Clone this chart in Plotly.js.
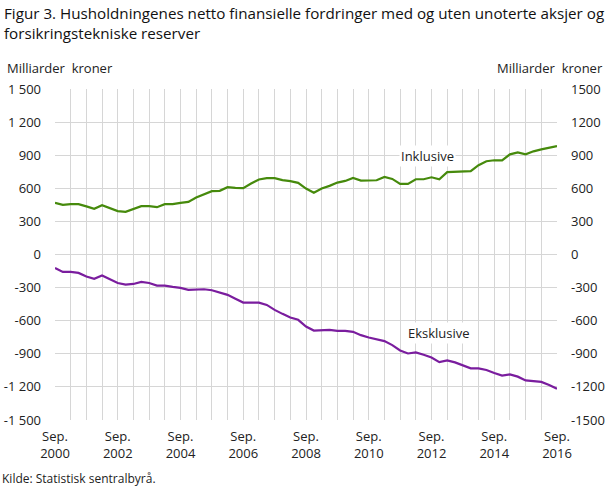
<!DOCTYPE html>
<html>
<head>
<meta charset="utf-8">
<script src="https://cdn.plot.ly/plotly-3.0.1.min.js"></script>
<style>html,body{margin:0;padding:0;background:#fff;}#chart{width:609px;height:488px;}</style>
</head>
<body>
<div id="chart"></div>
<script>
var periods = [
"2000K3","2000K4",
"2001K1","2001K2","2001K3","2001K4",
"2002K1","2002K2","2002K3","2002K4",
"2003K1","2003K2","2003K3","2003K4",
"2004K1","2004K2","2004K3","2004K4",
"2005K1","2005K2","2005K3","2005K4",
"2006K1","2006K2","2006K3","2006K4",
"2007K1","2007K2","2007K3","2007K4",
"2008K1","2008K2","2008K3","2008K4",
"2009K1","2009K2","2009K3","2009K4",
"2010K1","2010K2","2010K3","2010K4",
"2011K1","2011K2","2011K3","2011K4",
"2012K1","2012K2","2012K3","2012K4",
"2013K1","2013K2","2013K3","2013K4",
"2014K1","2014K2","2014K3","2014K4",
"2015K1","2015K2","2015K3","2015K4",
"2016K1","2016K2","2016K3"
];

var inklusive = [
468,450,456,456,436,414,447,420,393,387,
411,438,438,429,456,456,468,477,517,547,
574,577,610,604,601,643,680,692,692,674,
665,649,598,559,598,622,652,667,694,670,
673,673,703,685,640,640,682,682,700,682,
746,748,755,755,809,845,854,854,908,926,
908,935,953,971,983
];

var eksklusive = [
-122,-158,-158,-167,-200,-221,-191,-221,-258,-273,
-267,-249,-258,-282,-282,-294,-303,-321,-315,-315,
-324,-348,-366,-402,-436,-436,-436,-457,-502,-538,
-571,-592,-653,-689,-689,-683,-692,-692,-701,-731,
-752,-770,-785,-821,-870,-897,-888,-909,-933,-975,
-960,-978,-1005,-1032,-1032,-1047,-1074,-1098,-1087,-1107,
-1141,-1146,-1155,-1182,-1216
];

var seriesNames = ["Inklusive", "Eksklusive"];

var yTickVals = [-1500,-1200,-900,-600,-300,0,300,600,900,1200,1500];
var yTickTextLeft = ["-1 500","-1 200","-900","-600","-300","0","300","600","900","1 200","1 500"];
var yTickTextRight = ["-1500","-1200","-900","-600","-300","0","300","600","900","1200","1500"];

var titleText = "Figur 3. Husholdningenes netto finansielle fordringer med og uten unoterte aksjer og<br>forsikringstekniske reserver";
var unitText = "Milliarder\u00a0 kroner";
var sourceText = "Kilde: Statistisk sentralbyrå.";

// x ticks: every half year (Sep and Mar), labels on Sep of even years
var xTickVals = [], xTickText = [];
periods.forEach(function(p){
  var y = +p.slice(0,4), q = p.slice(4);
  if (q === "K3" || q === "K1") {
    xTickVals.push(p);
    xTickText.push(q === "K3" && y % 2 === 0 ? "Sep.<br>" + y : "");
  }
});

var font = "'Open Sans', 'DejaVu Sans', sans-serif";
var txtColor = "#222";

var traces = [
  {x: periods, y: inklusive, name: seriesNames[0], type: "scatter", mode: "lines",
   line: {color: "#468a0c", width: 2.2}, hoverinfo: "x+y"},
  {x: periods, y: eksklusive, name: seriesNames[1], type: "scatter", mode: "lines",
   line: {color: "#7a1d9e", width: 2.2}, hoverinfo: "x+y"},
  {x: periods, y: inklusive, yaxis: "y2", type: "scatter", mode: "lines",
   line: {width: 0}, opacity: 0, hoverinfo: "skip", showlegend: false}
];

var layout = {
  width: 609, height: 488,
  margin: {l: 55, r: 52, t: 89, b: 68},
  paper_bgcolor: "#fff", plot_bgcolor: "#fff",
  showlegend: false,
  font: {family: font, size: 13, color: txtColor},
  xaxis: {type: "category", range: [0, 64], tickmode: "array",
          tickvals: xTickVals, ticktext: xTickText, ticks: "",
          showgrid: true, gridcolor: "#d6d6d6", gridwidth: 1,
          zeroline: false, showline: false, ticklabelstandoff: 7,
          tickfont: {family: font, size: 13, color: txtColor}},
  yaxis: {range: [-1500, 1500], tickmode: "array", tickvals: yTickVals, ticktext: yTickTextLeft,
          showgrid: true, gridcolor: "#d6d6d6", gridwidth: 1, zeroline: false,
          ticks: "", ticklabelstandoff: 13,
          tickfont: {family: font, size: 13, color: txtColor}},
  yaxis2: {range: [-1500, 1500], overlaying: "y", side: "right", tickmode: "array",
           tickvals: yTickVals, ticktext: yTickTextRight, showgrid: false, zeroline: false,
           ticks: "", ticklabelstandoff: 13,
           tickfont: {family: font, size: 13, color: txtColor}},
  annotations: [
    {text: titleText, xref: "paper", yref: "paper", x: -0.106, y: 1.0, yshift: 88,
     xanchor: "left", yanchor: "top", align: "left", showarrow: false,
     font: {family: font, size: 15.2, color: "#111"}},
    {text: unitText, xref: "paper", yref: "paper", x: -0.1, y: 1.0, yshift: 21,
     xanchor: "left", yanchor: "middle", showarrow: false, font: {family: font, size: 13, color: txtColor}},
    {text: unitText, xref: "paper", yref: "paper", x: 1.096, y: 1.0, yshift: 21,
     xanchor: "right", yanchor: "middle", showarrow: false, font: {family: font, size: 13, color: txtColor}},
    {text: sourceText, xref: "paper", yref: "paper", x: -0.11, y: 0, yshift: -58,
     xanchor: "left", yanchor: "middle", showarrow: false, font: {family: font, size: 12, color: txtColor}},
    {text: seriesNames[0], xref: "x", yref: "y", x: 47.5, y: 890, xanchor: "center", yanchor: "middle",
     showarrow: false, bgcolor: "#fff", font: {family: font, size: 13, color: txtColor}},
    {text: seriesNames[1], xref: "x", yref: "y", x: 49.0, y: -710, xanchor: "center", yanchor: "middle",
     showarrow: false, bgcolor: "#fff", font: {family: font, size: 13, color: txtColor}}
  ]
};

Plotly.newPlot("chart", traces, layout, {displayModeBar: false, staticPlot: true});
</script>
</body>
</html>
